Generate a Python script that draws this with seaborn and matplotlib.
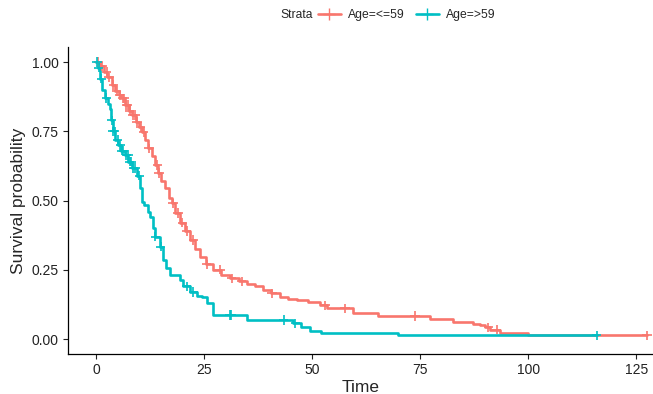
import numpy as np
import pandas as pd
import matplotlib
matplotlib.use('Agg')
import matplotlib.pyplot as plt
from matplotlib.lines import Line2D
import seaborn as sns

# Kaplan-Meier steps (time, survival after the step)
young_time = [0, 1.0, 1.8, 2.6, 3.6, 4.5, 5.3, 5.9, 6.8, 7.6, 8.3, 9.2, 10.0, 10.6, 11.4,
              12.1, 12.9, 13.7, 14.4, 15.1, 16.0, 16.8, 17.5, 18.3, 19.4, 20.5, 21.8, 23.0,
              24.1, 25.5, 27.1, 29.0, 31.0, 33.0, 34.9, 36.8, 38.7, 40.6, 42.6, 44.5, 46.5,
              49.0, 51.9, 53.5, 59.5, 65.3, 77.3, 82.6, 87.3, 88.9, 90.0, 91.2, 93.5, 100.0, 127.5]
young_surv = [1.0, 0.985, 0.965, 0.945, 0.917, 0.895, 0.88, 0.869, 0.845, 0.825, 0.809, 0.785,
              0.765, 0.748, 0.718, 0.688, 0.66, 0.628, 0.60, 0.572, 0.544, 0.51, 0.49, 0.455,
              0.42, 0.39, 0.357, 0.325, 0.297, 0.27, 0.25, 0.232, 0.219, 0.208, 0.20, 0.19,
              0.177, 0.165, 0.153, 0.145, 0.141, 0.132, 0.122, 0.111, 0.095, 0.083, 0.071,
              0.062, 0.054, 0.05, 0.042, 0.034, 0.023, 0.014, 0.014]
young_cens = [0.5, 1.5, 2.5, 3.0, 4.0, 4.8, 5.5, 6.2, 6.5, 7.0, 7.3, 7.8, 8.5, 9.0, 9.5, 10.3,
              11.0, 12.3, 14.2, 14.6, 17.8, 19.0, 20.0, 21.0, 22.5, 25.6, 28.7, 31.4, 33.7,
              40.7, 53.0, 57.6, 73.8, 90.8, 92.7, 127.5]

old_time = [0, 0.5, 0.9, 1.5, 2.1, 2.7, 3.2, 3.5, 3.9, 4.4, 5.1, 5.9, 6.7, 7.5, 8.3, 9.4,
            10.2, 10.6, 11.0, 12.0, 12.5, 13.1, 13.7, 14.8, 15.6, 16.3, 17.1, 19.4, 20.2,
            21.8, 23.3, 24.5, 25.6, 27.1, 35.0, 45.7, 47.5, 49.5, 52.0, 70.0, 115.9]
old_surv = [1.0, 0.98, 0.94, 0.9, 0.87, 0.85, 0.83, 0.79, 0.75, 0.72, 0.70, 0.68, 0.664,
            0.64, 0.617, 0.59, 0.545, 0.495, 0.485, 0.46, 0.44, 0.40, 0.37, 0.333, 0.285,
            0.255, 0.231, 0.213, 0.19, 0.17, 0.155, 0.15, 0.13, 0.087, 0.069, 0.057, 0.045,
            0.03, 0.022, 0.014, 0.014]
old_cens = [0.2, 0.6, 1.2, 2.4, 3.6, 3.9, 4.3, 5.0, 5.6, 6.0, 6.3, 7.0, 7.4, 7.8, 8.2, 8.6,
            9.0, 10.0, 13.7, 15.0, 21.0, 22.5, 31.0, 31.3, 43.4, 46.1, 115.9]

strata = ['Age=<=59', 'Age=>59']
colors = ['#F8766D', '#00BFC4']


def surv_at(times, surv, t):
    idx = np.searchsorted(times, t, side='right') - 1
    return np.array(surv)[idx]


curves = pd.concat([
    pd.DataFrame({'time': young_time, 'surv': young_surv, 'strata': strata[0]}),
    pd.DataFrame({'time': old_time, 'surv': old_surv, 'strata': strata[1]}),
])
cens = pd.concat([
    pd.DataFrame({'time': young_cens, 'surv': surv_at(young_time, young_surv, young_cens), 'strata': strata[0]}),
    pd.DataFrame({'time': old_cens, 'surv': surv_at(old_time, old_surv, old_cens), 'strata': strata[1]}),
])

sns.set_style('ticks')
plt.rcParams['font.family'] = ['Liberation Sans', 'DejaVu Sans']

fig = plt.figure(figsize=(6.53, 3.94), dpi=100)
ax = fig.add_axes([0.104, 0.1015, 0.896, 0.779])
pal = dict(zip(strata, colors))

sns.lineplot(data=curves, x='time', y='surv', hue='strata', palette=pal, estimator=None,
             sort=True, drawstyle='steps-post', linewidth=1.9, legend=False, ax=ax)
sns.scatterplot(data=cens, x='time', y='surv', hue='strata', palette=pal, marker='+',
                s=45, linewidth=1.2, legend=False, ax=ax, zorder=3, clip_on=False)

ax.set_xlim(-6.5, 128.9)
ax.set_ylim(-0.054, 1.054)
ax.set_xticks([0, 25, 50, 75, 100, 125])
ax.set_yticks([0, 0.25, 0.5, 0.75, 1.0])
ax.set_yticklabels(['0.00', '0.25', '0.50', '0.75', '1.00'])
ax.set_xlabel('Time', fontsize=12.5, labelpad=2)
ax.set_ylabel('Survival probability', fontsize=12.5, labelpad=4)
ax.tick_params(labelsize=10, colors='#222222', length=3.5, width=0.8, pad=3)
for s in ['left', 'bottom']:
    ax.spines[s].set_color('black')
    ax.spines[s].set_linewidth(0.9)
sns.despine(ax=ax)

handles = [Line2D([], [], color=c, marker='+', markersize=8, linewidth=1.9) for c in colors]
fig.text(280 / 653, 1 - 15 / 394, 'Strata', fontsize=8.7, va='center', ha='left')
fig.legend(handles, strata, loc='center left', bbox_to_anchor=(318 / 653, 1 - 15 / 394),
           ncol=2, frameon=False, fontsize=8.7, handlelength=1.9, handletextpad=0.6,
           columnspacing=0.9, borderaxespad=0, borderpad=0)

fig.savefig('out.png', dpi=100)
